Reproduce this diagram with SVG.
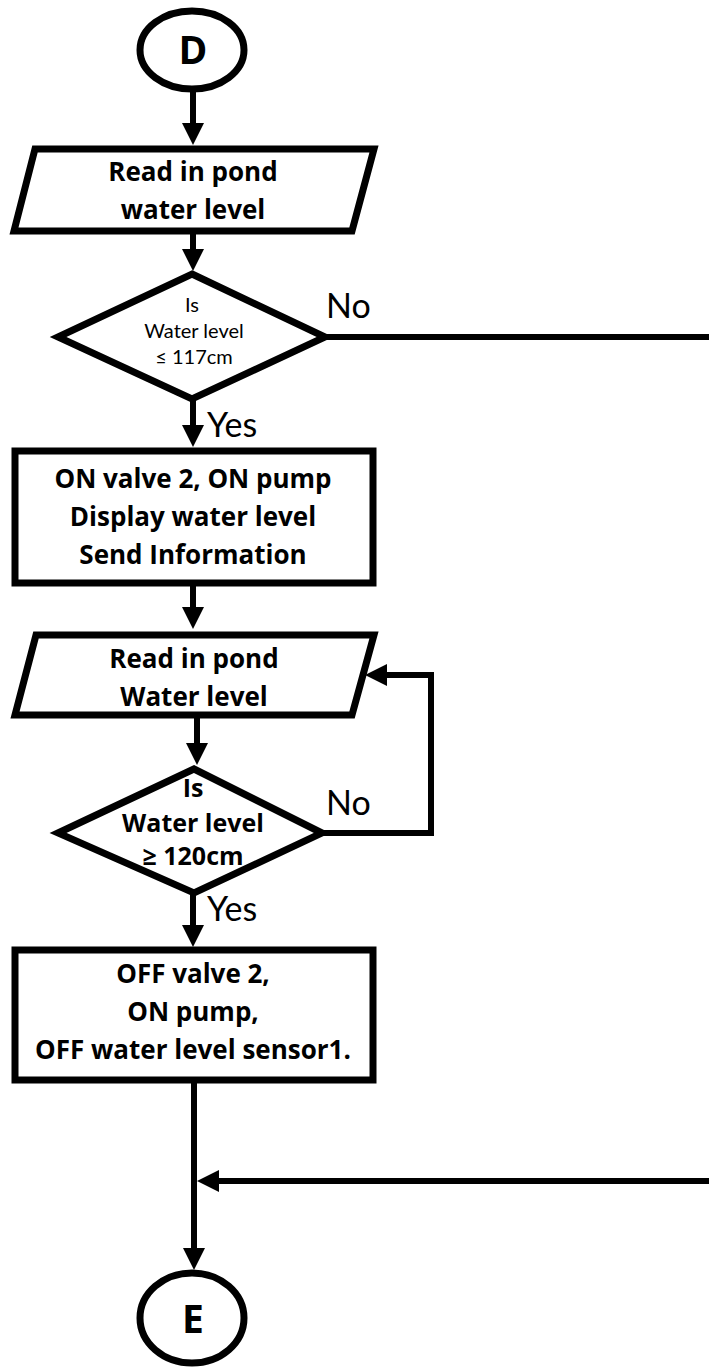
<svg xmlns="http://www.w3.org/2000/svg" width="709" height="1369" viewBox="0 0 709 1369">
  <defs>
    <style>
      .shape { fill: #ffffff; stroke: #000000; stroke-width: 7; stroke-linejoin: miter; }
      .wire { fill: none; stroke: #000000; stroke-width: 6; }
      .t { font-family: "Open Sans", Lato, "Liberation Sans", sans-serif; fill: #000000; text-anchor: middle; }
      .box { font-size: 26px; font-weight: bold; }
      .q1 { font-family: Lato, "Open Sans", "Liberation Sans", sans-serif; font-size: 20px; font-weight: normal; }
      .q2 { font-size: 25px; font-weight: bold; }
      .lbl { font-family: Lato, "Open Sans", "Liberation Sans", sans-serif; font-size: 34px; fill: #000000; }
      .term { font-size: 39px; font-weight: bold; }
    </style>
    <!-- arrowhead: tip sits 10px beyond the end of the path -->
    <marker id="arrow" viewBox="0 0 22 22" refX="12" refY="11" markerWidth="22" markerHeight="22" markerUnits="userSpaceOnUse" orient="auto">
      <path d="M0,0 L22,11 L0,22 Z" fill="#000000"/>
    </marker>
  </defs>

  <rect width="709" height="1369" fill="#ffffff"/>

  <!-- connectors -->
  <g id="connectors">
    <path class="wire" d="M193,89 V135" marker-end="url(#arrow)"/>
    <path class="wire" d="M193,234 V261" marker-end="url(#arrow)"/>
    <!-- No branch of first test runs off to the right -->
    <path class="wire" d="M325,337 H709"/>
    <path class="wire" d="M193,399 V437" marker-end="url(#arrow)"/>
    <path class="wire" d="M193,586 V619" marker-end="url(#arrow)"/>
    <path class="wire" d="M197,718 V755" marker-end="url(#arrow)"/>
    <!-- No branch of second test loops back to the read step -->
    <path class="wire" d="M322,833 H431 V675 H375" marker-end="url(#arrow)"/>
    <path class="wire" d="M193,893 V937" marker-end="url(#arrow)"/>
    <path class="wire" d="M194,1083 V1260" marker-end="url(#arrow)"/>
    <!-- return path from the right joins the main line -->
    <path class="wire" d="M709,1181 H207" marker-end="url(#arrow)"/>
  </g>

  <g id="start-D">
    <ellipse class="shape" cx="192" cy="50" rx="52" ry="39"/>
    <text class="t term" x="193" y="64">D</text>
  </g>

  <g id="read-1">
    <polygon class="shape" points="35,149 374,149 352,231 14,231"/>
    <text class="t box" x="193" y="181">Read in pond</text>
    <text class="t box" x="193" y="219">water level</text>
  </g>

  <g id="test-117">
    <polygon class="shape" points="192,274 325,337 192,399 58,337"/>
    <text class="t q1" x="192" y="312">Is</text>
    <text class="t q1" x="194" y="338">Water level</text>
    <text class="t q1" x="194" y="364">≤ 117cm</text>
    <text class="lbl" x="326" y="318">No</text>
    <text class="lbl" x="207" y="437">Yes</text>
  </g>

  <g id="pump-on">
    <rect class="shape" x="15" y="451" width="358" height="132"/>
    <text class="t box" x="193" y="488">ON valve 2, ON pump</text>
    <text class="t box" x="193" y="526">Display water level</text>
    <text class="t box" x="193" y="564">Send Information</text>
  </g>

  <g id="read-2">
    <polygon class="shape" points="36,635 374,635 352,715 15,715"/>
    <text class="t box" x="194" y="668">Read in pond</text>
    <text class="t box" x="194" y="706">Water level</text>
  </g>

  <g id="test-120">
    <polygon class="shape" points="194,769 322,833 194,893 58,833"/>
    <text class="t q2" x="193" y="797">Is</text>
    <text class="t q2" x="193" y="832">Water level</text>
    <text class="t q2" x="193" y="865">≥ 120cm</text>
    <text class="lbl" x="326" y="815">No</text>
    <text class="lbl" x="207" y="921">Yes</text>
  </g>

  <g id="pump-off">
    <rect class="shape" x="15" y="950" width="358" height="130"/>
    <text class="t box" x="193" y="983">OFF valve 2,</text>
    <text class="t box" x="193" y="1021">ON pump,</text>
    <text class="t box" x="193" y="1059">OFF water level sensor1.</text>
  </g>

  <g id="end-E">
    <ellipse class="shape" cx="192" cy="1318" rx="52" ry="45"/>
    <text class="t term" x="193" y="1333">E</text>
  </g>
</svg>
